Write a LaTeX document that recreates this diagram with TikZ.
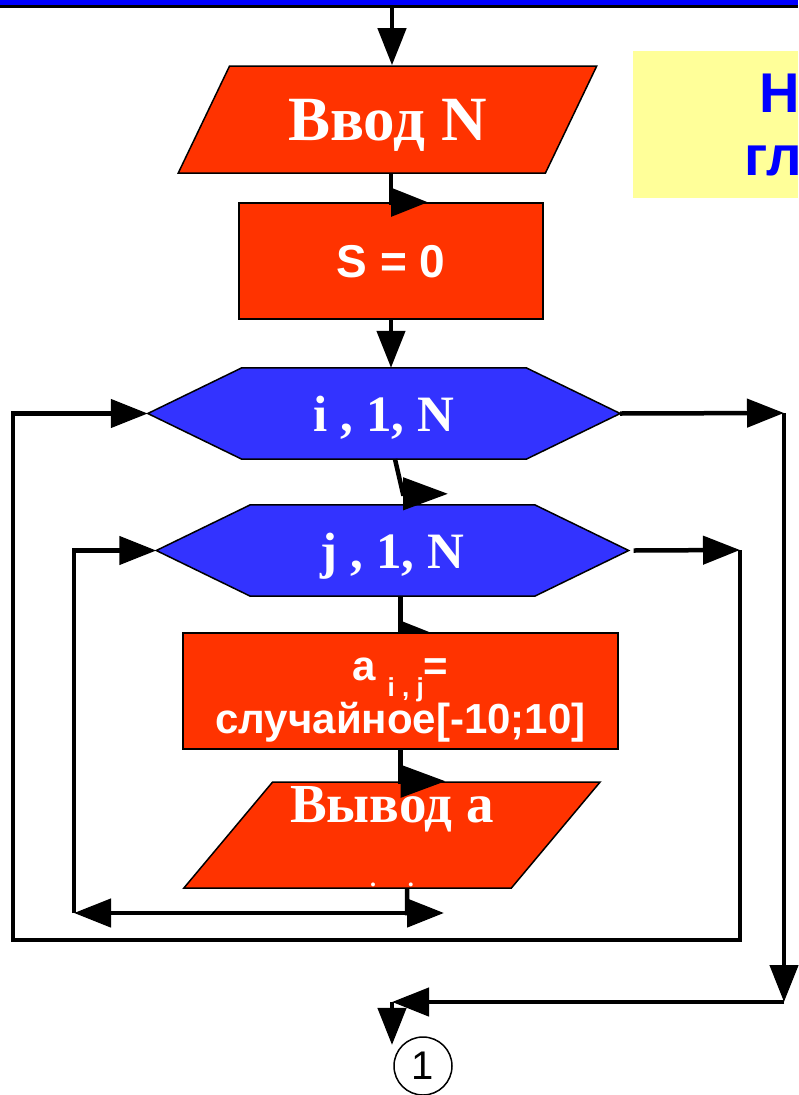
\documentclass[tikz,border=0pt]{standalone}
\usepackage{fontspec}
\setmainfont{Liberation Serif}
\setsansfont{Liberation Sans}
\usetikzlibrary{arrows.meta,shapes.geometric}
\pgfdeclarelayer{behind}
\pgfsetlayers{behind,main}

\definecolor{boxred}{HTML}{FF3300}
\definecolor{loopblue}{HTML}{3333FF}
\definecolor{barblue}{HTML}{0000FF}
\definecolor{notebg}{HTML}{FFFF99}

\tikzset{
  iobox/.style={trapezium, trapezium left angle=52, trapezium right angle=128,
    trapezium stretches=true, fill=boxred, draw=black, line width=1.5pt,
    minimum width=419pt, minimum height=107pt, inner sep=0pt, text=white},
  procbox/.style={rectangle, fill=boxred, draw=black, line width=1.5pt,
    inner sep=0pt, text=white, text depth=0pt},
  loopbox/.style={rectangle, minimum width=472pt, minimum height=91pt,
    inner sep=0pt, text=white, text depth=0pt,
    font=\bfseries\fontsize{51}{51}\selectfont},
  loopfill/.style={fill=loopblue, draw=black, line width=1.5pt},
  flow/.style={line width=4.5pt, -{Triangle[length=37pt,width=28pt]}},
  wideflow/.style={line width=4.5pt, -{Triangle[length=45pt,width=32pt]}},
  notetext/.style={anchor=base west, inner sep=0pt, text=barblue,
    font=\sffamily\bfseries\fontsize{56}{56}\selectfont},
}

\begin{document}
\begin{tikzpicture}[x=1pt, y=-1pt]
  \useasboundingbox (0,0) rectangle (798,1095);
  % header strip
  \fill[barblue] (0,0) rectangle (798,5);
  \fill[black] (0,5) rectangle (798,7.5);
  % note on the right
  \fill[notebg] (633,51) rectangle (798,198);
  \node[notetext] (noteA) at (759,112) {Н};
  \node[notetext] (noteB) at (744,175) {гл};

  \coordinate (start) at (392,7);
  \node[iobox, text depth=0pt,
        font=\bfseries\fontsize{63}{63}\selectfont] (vvod) at (387.5,119.5) {Ввод N};
  \node[procbox, minimum width=304pt, minimum height=116pt,
        font=\sffamily\bfseries\fontsize{46}{46}\selectfont]
        (s) [below of=vvod, node distance=141.5pt, xshift=3.5pt] {S = 0};
  \node[loopbox] (hexi) [below of=s, node distance=152.5pt, xshift=-7pt] {i , 1, N};
  \node[loopbox] (hexj) [below of=hexi, node distance=137pt, xshift=8.5pt] {j , 1, N};
  \node[procbox, minimum width=435pt, minimum height=116pt]
        (a) [below of=hexj, node distance=140.5pt, xshift=8pt] {};
  \node[align=center, text=white, inner sep=0pt,
        font=\sffamily\bfseries\fontsize{42}{53}\selectfont] (atext)
        at ([yshift=-9.5pt]a.center)
        {a {\fontsize{26}{26}\selectfont\raisebox{-16pt}[0pt][0pt]{i , j}}=\\случайное[-10;10]};
  \node[iobox, minimum width=417pt, minimum height=106pt, text height=36pt,
        text depth=61pt, font=\bfseries\fontsize{55}{55}\selectfont]
        (vvodA) [below of=a, node distance=144pt, xshift=-8.5pt] {Вывод а};
  \node[anchor=base, text=white, inner sep=0pt,
        font=\bfseries\fontsize{24}{24}\selectfont] (vdots)
        at (392,886.5) {.\hspace{32pt}.};
  \node[circle, draw, line width=1.5pt, minimum size=58pt, inner sep=0pt,
        font=\sffamily\fontsize{40}{40}\selectfont] (con) at (423,1066) {1};

  % hexagons of the two loops
  \begin{pgfonlayer}{behind}
    \foreach \h in {hexi,hexj}
      \draw[loopfill] (\h.west) -- ([xshift=94pt]\h.north west)
        -- ([xshift=-94pt]\h.north east) -- (\h.east)
        -- ([xshift=-94pt]\h.south east) -- ([xshift=94pt]\h.south west) -- cycle;
  \end{pgfonlayer}

  % main line
  \draw[flow] (start) -- (start |- vvod.north);
  \draw[flow] (s.north |- vvod.south) -- (s.north) -- ++(37pt,0);
  \draw[flow] (s.south) -- (s.south |- hexi.north);
  \draw[wideflow] ([xshift=11pt]hexi.south) -- ([xshift=10.5pt,yshift=11pt]hexj.north) -- ++(45pt,0);
  \begin{pgfonlayer}{behind}
    \draw[flow] (a.north |- hexj.south) -- ([yshift=-3pt]a.north) -- ++(37pt,0);
  \end{pgfonlayer}
  \draw[wideflow] (a.south) -- (a.south |- vvodA.north) -- ++(45pt,0);

  % inner loop
  \coordinate (jback) at (407,913);
  \coordinate (jleft) at (74,913);
  \draw[flow] ([xshift=15pt]vvodA.south) -- (jback) -- ++(37pt,0);
  \draw[flow] (jback) -- (jleft);
  \draw[flow] (jleft) |- (hexj.west);

  % leaving the inner loop
  \coordinate (jexit) at (740,550);
  \coordinate (iback) at (13,940);
  \draw[flow] ([xshift=5pt]hexj.east) -- (jexit);
  \draw[flow] (jexit) |- (iback) |- (hexi.west);

  % leaving the outer loop
  \coordinate (iexit) at (784,413);
  \coordinate (iend) at (784,1002);
  \coordinate (ijoin) at (392,1002);
  \draw[flow] (hexi.east) -- (iexit);
  \draw[flow] (iexit) -- (iend);
  \draw[flow] (iend) -- (ijoin);
  \draw[flow] (ijoin) -- (ijoin |- con.north west);
\end{tikzpicture}
\end{document}
